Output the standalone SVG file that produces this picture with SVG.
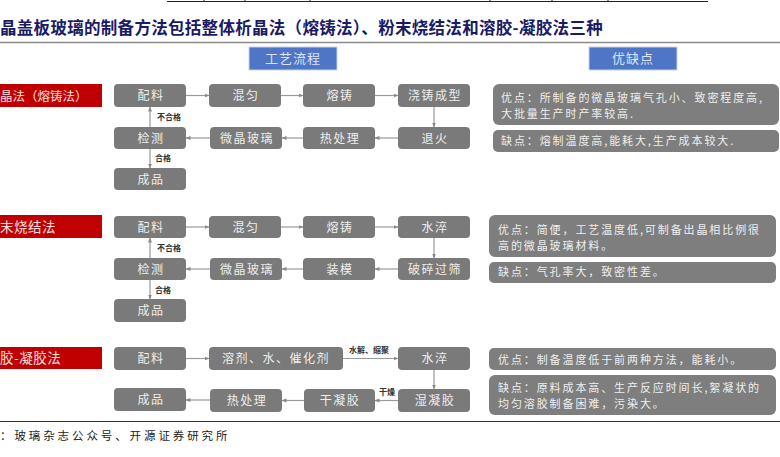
<svg xmlns="http://www.w3.org/2000/svg" width="780" height="457" viewBox="0 0 780 457">
<style>
.t{font-family:"Noto Sans CJK SC","Liberation Sans",sans-serif}
.title{font-size:16.5px;font-weight:700;fill:#1a1a66;letter-spacing:0.3px}
.hdr rect{fill:#4f76c6;stroke:#c8d2e8;stroke-width:1}
.hdr text{font-size:13px;fill:#dbe3f5;text-anchor:middle;letter-spacing:1px}
.red rect{fill:#c00000}
.red text{font-size:13.5px;fill:#f3e0e0;letter-spacing:0.5px}
.box rect{fill:#7a7a7a}
.box text{font-size:12px;fill:#eeeeee;text-anchor:middle;letter-spacing:1.5px}
.pc rect{fill:#7e7e7e}
.pc text{font-size:11px;fill:#efefef;letter-spacing:1.9px}
.lbl{font-size:8px;fill:#333;font-weight:700}
.conn line{stroke:#9a9a9a;stroke-width:1.2;marker-end:url(#ah)}
</style>
<defs>
<marker id="ah" viewBox="0 0 10 10" refX="9" refY="5" markerWidth="5" markerHeight="5" orient="auto" markerUnits="userSpaceOnUse"><path d="M0,1 L10,5 L0,9 z" fill="#8a8a8a"/></marker>
</defs>
<rect width="780" height="457" fill="#fff"/>
<g id="toprule" stroke="#222" stroke-width="1">
<line x1="167" y1="1.5" x2="708" y2="1.5"/>
<line x1="204" y1="0" x2="204" y2="2"/><line x1="245" y1="0" x2="245" y2="2"/><line x1="310" y1="0" x2="310" y2="2"/><line x1="490" y1="0" x2="490" y2="2"/><line x1="552" y1="0" x2="552" y2="2"/><line x1="608" y1="0" x2="608" y2="2"/>
</g>
<text class="t title" x="0" y="34">晶盖板玻璃的制备方法包括整体析晶法（熔铸法）、粉末烧结法和溶胶-凝胶法三种</text>
<line x1="0" y1="42.5" x2="780" y2="42.5" stroke="#8a8a8a" stroke-width="1.5"/>
<g id="hdr1" class="hdr t"><rect x="249" y="47" width="88" height="23"/><text x="293" y="63">工艺流程</text></g>
<g id="hdr2" class="hdr t"><rect x="589" y="47" width="88" height="23"/><text x="633" y="63">优缺点</text></g>

<g id="lab1" class="red t"><rect x="0" y="84" width="102" height="23"/><text x="0" y="100.5" style="font-size:12.5px;letter-spacing:0">晶法（熔铸法）</text></g>
<g id="lab2" class="red t"><rect x="0" y="215" width="102" height="23"/><text x="0" y="231.5">末烧结法</text></g>
<g id="lab3" class="red t"><rect x="0" y="347" width="102" height="22"/><text x="0" y="363">胶-凝胶法</text></g>

<!-- row 1 -->
<g id="r1_peiliao" class="box t"><rect x="114" y="84" width="72" height="23" rx="4"/><text x="151" y="100">配料</text></g>
<g id="r1_hunyun" class="box t"><rect x="209" y="84" width="72" height="23" rx="4"/><text x="246" y="100">混匀</text></g>
<g id="r1_rongzhu" class="box t"><rect x="303" y="84" width="72" height="23" rx="4"/><text x="340" y="100">熔铸</text></g>
<g id="r1_jiaozhu" class="box t"><rect x="398" y="84" width="72" height="23" rx="4"/><text x="435" y="100">浇铸成型</text></g>
<g id="r1_jiance" class="box t"><rect x="114" y="127" width="72" height="22" rx="4"/><text x="151" y="142.5">检测</text></g>
<g id="r1_weijing" class="box t"><rect x="210" y="127" width="72" height="22" rx="4"/><text x="247" y="142.5">微晶玻璃</text></g>
<g id="r1_rechuli" class="box t"><rect x="303" y="127" width="72" height="22" rx="4"/><text x="340" y="142.5">热处理</text></g>
<g id="r1_tuihuo" class="box t"><rect x="398" y="127" width="72" height="22" rx="4"/><text x="435" y="142.5">退火</text></g>
<g id="r1_chengpin" class="box t"><rect x="114" y="168" width="72" height="22" rx="4"/><text x="151" y="183.5">成品</text></g>

<!-- row 2 -->
<g id="r2_peiliao" class="box t"><rect x="114" y="216" width="72" height="22" rx="4"/><text x="151" y="231.5">配料</text></g>
<g id="r2_hunyun" class="box t"><rect x="209" y="216" width="72" height="22" rx="4"/><text x="246" y="231.5">混匀</text></g>
<g id="r2_rongzhu" class="box t"><rect x="303" y="216" width="72" height="22" rx="4"/><text x="340" y="231.5">熔铸</text></g>
<g id="r2_shuicui" class="box t"><rect x="398" y="216" width="72" height="22" rx="4"/><text x="435" y="231.5">水淬</text></g>
<g id="r2_jiance" class="box t"><rect x="114" y="258" width="72" height="22" rx="4"/><text x="151" y="273.5">检测</text></g>
<g id="r2_weijing" class="box t"><rect x="210" y="258" width="72" height="22" rx="4"/><text x="247" y="273.5">微晶玻璃</text></g>
<g id="r2_zhuangmo" class="box t"><rect x="303" y="258" width="72" height="22" rx="4"/><text x="340" y="273.5">装模</text></g>
<g id="r2_posui" class="box t"><rect x="398" y="258" width="72" height="22" rx="4"/><text x="435" y="273.5">破碎过筛</text></g>
<g id="r2_chengpin" class="box t"><rect x="114" y="299" width="72" height="23" rx="4"/><text x="151" y="315">成品</text></g>

<!-- row 3 -->
<g id="r3_peiliao" class="box t"><rect x="114" y="347" width="72" height="23" rx="4"/><text x="151" y="363">配料</text></g>
<g id="r3_rongji" class="box t"><rect x="209" y="347" width="134" height="23" rx="4"/><text x="276" y="363">溶剂、水、催化剂</text></g>
<g id="r3_shuicui" class="box t"><rect x="398" y="347" width="72" height="23" rx="4"/><text x="435" y="363">水淬</text></g>
<g id="r3_shining" class="box t"><rect x="398" y="389" width="72" height="23" rx="4"/><text x="435" y="405">湿凝胶</text></g>
<g id="r3_ganning" class="box t"><rect x="304" y="389" width="71" height="23" rx="4"/><text x="340" y="405">干凝胶</text></g>
<g id="r3_rechuli" class="box t"><rect x="210" y="389" width="72" height="23" rx="4"/><text x="247" y="405">热处理</text></g>
<g id="r3_chengpin" class="box t"><rect x="114" y="388" width="72" height="23" rx="4"/><text x="151" y="404">成品</text></g>

<g id="connectors" class="conn">
<line x1="186" y1="95.5" x2="209" y2="95.5"/>
<line x1="281" y1="95.5" x2="303" y2="95.5"/>
<line x1="375" y1="95.5" x2="398" y2="95.5"/>
<line x1="434" y1="107" x2="434" y2="127"/>
<line x1="398" y1="138" x2="375" y2="138"/>
<line x1="303" y1="138" x2="282" y2="138"/>
<line x1="210" y1="138" x2="186" y2="138"/>
<line x1="150" y1="127" x2="150" y2="107"/>
<line x1="150" y1="149" x2="150" y2="168"/>

<line x1="186" y1="227" x2="209" y2="227"/>
<line x1="281" y1="227" x2="303" y2="227"/>
<line x1="375" y1="227" x2="398" y2="227"/>
<line x1="434" y1="238" x2="434" y2="258"/>
<line x1="398" y1="269" x2="375" y2="269"/>
<line x1="303" y1="269" x2="282" y2="269"/>
<line x1="210" y1="269" x2="186" y2="269"/>
<line x1="150" y1="258" x2="150" y2="238"/>
<line x1="150" y1="280" x2="150" y2="299"/>

<line x1="186" y1="358.5" x2="209" y2="358.5"/>
<line x1="343" y1="358.5" x2="398" y2="358.5"/>
<line x1="434" y1="370" x2="434" y2="389"/>
<line x1="398" y1="400.5" x2="375" y2="400.5"/>
<line x1="304" y1="400.5" x2="282" y2="400.5"/>
<line x1="210" y1="400" x2="186" y2="400"/>
</g>
<g id="connector-labels" class="t">
<text class="lbl" x="157" y="120">不合格</text>
<text class="lbl" x="155" y="161">合格</text>
<text class="lbl" x="157" y="251">不合格</text>
<text class="lbl" x="155" y="293">合格</text>
<text class="lbl" x="349" y="353">水解、缩聚</text>
<text class="lbl" x="379" y="395">干燥</text>
</g>

<!-- pros/cons -->
<g id="p1" class="pc t"><rect x="493" y="84" width="286" height="41" rx="6"/><text x="501" y="101.5">优点：所制备的微晶玻璃气孔小、致密程度高,</text><text x="501" y="118">大批量生产时产率较高.</text></g>
<g id="c1" class="pc t"><rect x="493" y="130" width="286" height="22" rx="5"/><text x="501" y="145">缺点：熔制温度高,能耗大,生产成本较大.</text></g>
<g id="p2" class="pc t"><rect x="489" y="215" width="287" height="42" rx="6"/><text x="498" y="233.5">优点：简便，工艺温度低,可制备出晶相比例很</text><text x="498" y="250">高的微晶玻璃材料。</text></g>
<g id="c2" class="pc t"><rect x="489" y="262" width="287" height="21" rx="5"/><text x="498" y="276">缺点：气孔率大，致密性差。</text></g>
<g id="p3" class="pc t"><rect x="489" y="348" width="287" height="22" rx="5"/><text x="498" y="364">优点：制备温度低于前两种方法，能耗小。</text></g>
<g id="c3" class="pc t"><rect x="489" y="375" width="287" height="40" rx="6"/><text x="498" y="391.5">缺点：原料成本高、生产反应时间长,絮凝状的</text><text x="498" y="407.5">均匀溶胶制备困难，污染大。</text></g>

<line x1="0" y1="421.5" x2="780" y2="421.5" stroke="#333" stroke-width="1"/>
<text class="t" x="0" y="440" font-size="11.5" fill="#222" letter-spacing="2.9">：玻璃杂志公众号、开源证券研究所</text>
</svg>
